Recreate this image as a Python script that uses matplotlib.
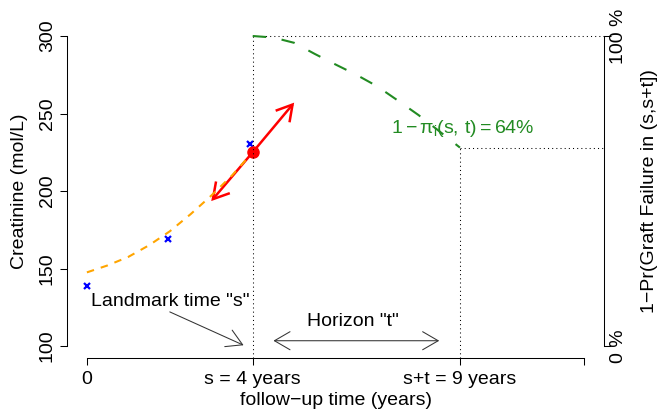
import matplotlib
matplotlib.use("Agg")
import matplotlib.pyplot as plt
from matplotlib.patches import FancyArrowPatch, ArrowStyle

plt.rcParams['font.family'] = ['Liberation Sans', 'DejaVu Sans']
plt.rcParams['mathtext.fontset'] = 'custom'
plt.rcParams['mathtext.rm'] = 'Liberation Sans'
plt.rcParams['mathtext.it'] = 'Liberation Sans'
plt.rcParams['mathtext.sf'] = 'Liberation Sans'
plt.rcParams['font.size'] = 14

# ---- data ----
obs_time = [0.0, 1.95, 3.93]
obs_creat = [139.0, 169.0, 230.5]

traj_time = [0, 0.5, 1, 1.5, 2, 2.5, 3, 3.5, 4]
traj_creat = [147.5, 152, 157.5, 165, 174, 185, 197, 210, 225]

landmark_s = 4
horizon_end = 9
fitted_creat = 225
slope_tip_time = [5.0, 3.0]
slope_tip_creat = [257.0, 193.5]

surv_time = [4, 4.5, 5, 5.5, 6, 6.5, 7, 7.5, 8, 8.5, 9]
surv_prob = [1.0, 0.995, 0.978, 0.942, 0.908, 0.875, 0.838, 0.792, 0.745, 0.693, 0.64]
surv_at_horizon = 0.64

creat_ticks = [100, 150, 200, 250, 300]
time_ticks = [0, 4, 9, 12]
time_labels = ['0', 's = 4 years', 's+t = 9 years', '']
prob_ticks = [0, 1]
prob_labels = ['0 %', '100 %']

landmark_text_pos = (2.0, 128.5)
landmark_arrow = ((2.0, 122.0), (3.78, 100.5))
horizon_text_pos = (6.42, 115.7)
horizon_arrow = ((4.5, 103.4), (8.5, 103.4))
prob_text_pos = (9.07, 0.7025)

# ---- figure ----
W, H = 662, 413
fig = plt.figure(figsize=(W / 100, H / 100), dpi=100)
ax = fig.add_axes([67 / W, (H - 358.4) / H, 537.2 / W, 334.8 / H])
ax.set_xlim(-0.48, 12.48)
ax.set_ylim(92, 308)
ax2 = ax.twinx()
ax2.set_ylim(-0.04, 1.04)

for a in (ax, ax2):
    a.patch.set_visible(False)
    for sp in a.spines.values():
        sp.set_visible(False)
        sp.set_linewidth(0.75)

ax.spines['left'].set_visible(True)
ax.spines['left'].set_bounds(100, 300)
ax.spines['bottom'].set_visible(True)
ax.spines['bottom'].set_bounds(0, 12)
ax2.spines['right'].set_visible(True)
ax2.spines['right'].set_bounds(0, 1)

ax.set_yticks(creat_ticks)
ax.set_yticklabels([str(v) for v in creat_ticks], rotation=90, va='center')
ax.set_xticks(time_ticks)
ax.set_xticklabels(time_labels)
ax.tick_params(axis='y', length=5, width=0.75, pad=3)
ax.tick_params(axis='x', length=5, width=0.75, pad=4)
ax2.set_yticks(prob_ticks)
ax2.set_yticklabels(prob_labels, rotation=90, va='center')
ax2.tick_params(axis='y', length=5, width=0.75, pad=-1)

ax.set_xlabel('follow\u2212up time (years)')
ax.xaxis.set_label_coords(0.5, -0.127)
ax.xaxis.label.set(va='center', ha='center')

ax.set_ylabel('Creatinine (mol/L)')
ax.yaxis.label.set(va='center', ha='center', rotation_mode='anchor')
ax.yaxis.set_label_coords(-0.088, 0.5)

ax2.set_ylabel('1\u2212Pr(Graft Failure in (s,s+t])', rotation=90)
ax2.yaxis.label.set(va='center', ha='center', rotation_mode='anchor')
ax2.yaxis.set_label_coords(1.085, 0.5)

# reference lines at landmark and horizon
dot = dict(color='black', lw=0.75, ls=(0, (1, 3)))
ybot = ax2.get_ylim()[0]
xright = ax.get_xlim()[1]
ax2.plot([landmark_s, landmark_s], [ybot, 1.0], **dot, clip_on=False)
ax2.plot([landmark_s, xright], [1.0, 1.0], **dot, clip_on=False)
ax2.plot([horizon_end, horizon_end], [ybot, surv_at_horizon], **dot, clip_on=False)
ax2.plot([horizon_end, xright], [surv_at_horizon, surv_at_horizon], **dot, clip_on=False)

# longitudinal trajectory and observations
ax.plot(traj_time, traj_creat, color='orange', lw=1.5, dashes=(3.6, 3.4))
ax.plot(obs_time, obs_creat, ls='none', marker='x', color='blue', ms=5, mew=1.6)

# slope arrows at the landmark
red_style = ArrowStyle('->', head_length=11.2, head_width=6.5)
for tx, ty in zip(slope_tip_time, slope_tip_creat):
    ax.add_patch(FancyArrowPatch((landmark_s, fitted_creat), (tx, ty),
                                 arrowstyle=red_style, mutation_scale=1,
                                 color='red', lw=1.8, shrinkA=0, shrinkB=0,
                                 capstyle='butt', joinstyle='miter'))
ax.plot([landmark_s], [fitted_creat], 'o', color='red', ms=8)

# conditional survival curve
ax2.plot(surv_time, surv_prob, color='forestgreen', lw=1.5, dashes=(6.5, 7.5))
ax2.text(*prob_text_pos, r'$1-\pi_{\rm i}(s,\,t)=64\%$', color='forestgreen',
         ha='center', va='center', fontsize=14)

# annotations
gray_style = ArrowStyle('->', head_length=11.2, head_width=6.5)
ax.text(*landmark_text_pos, 'Landmark time "s"', ha='center', va='center')
ax.add_patch(FancyArrowPatch(*landmark_arrow, arrowstyle=gray_style,
                             mutation_scale=1, color='#333333', lw=0.75,
                             shrinkA=0, shrinkB=0))
ax.text(*horizon_text_pos, 'Horizon "t"', ha='center', va='center')
ax.add_patch(FancyArrowPatch(*horizon_arrow, arrowstyle=ArrowStyle('<->', head_length=11.2, head_width=6.5),
                             mutation_scale=1, color='#333333', lw=0.75,
                             shrinkA=0, shrinkB=0))

fig.savefig('out.png', dpi=100)
